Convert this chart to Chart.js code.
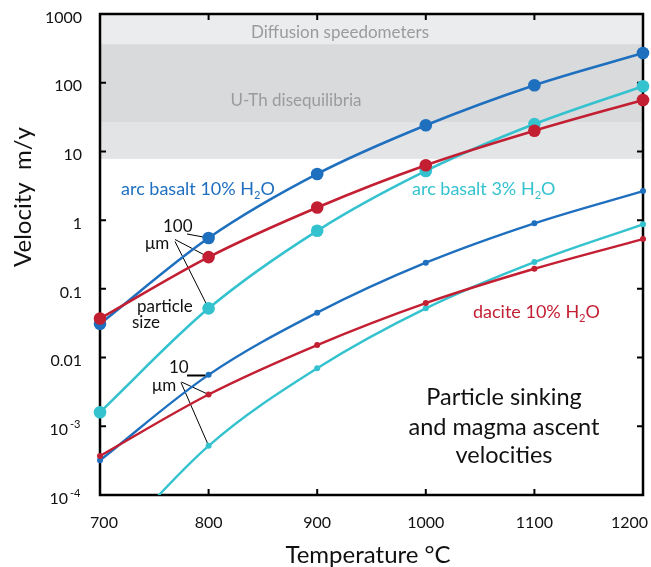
<!DOCTYPE html>
<html lang="en">
<head>
  <meta charset="UTF-8" />
  <title>Particle sinking and magma ascent velocities</title>
  <script src="https://cdn.jsdelivr.net/npm/chart.js"></script>
  <style>
    body { margin: 0; background: #fff; }
    #wrap { width: 651px; height: 567px; }
  </style>
</head>
<body>
  <div id="wrap"><canvas id="velChart" width="651" height="567"></canvas></div>

  <script>
    const temps = [700, 800, 900, 1000, 1100, 1200];

    // 100 micron particles (big dots)
    const basalt10Big = [0.031, 0.55, 4.7, 24, 92, 270];
    const basalt3Big = [0.0016, 0.052, 0.70, 5.2, 25, 89];
    const dacite10Big = [0.037, 0.29, 1.53, 6.3, 20, 56];

    // 10 micron particles (small dots)
    const basalt10Small = [0.00032, 0.0056, 0.045, 0.24, 0.90, 2.65];
    const basalt3Small = [0.000012, 0.00052, 0.0070, 0.052, 0.245, 0.87];
    const dacite10Small = [0.00037, 0.0029, 0.0152, 0.062, 0.196, 0.53];

    const xTicks = [700, 800, 900, 1000, 1100, 1200];
    const yTicks = [1e-4, 1e-3, 0.01, 0.1, 1, 10, 100, 1000];
    const yTickBase = ['10', '10', '0.01', '0.1', '1', '10', '100', '1000'];
    const yTickExp = ['-4', '-3', '', '', '', '', '', ''];

    // shaded ranges: edges from low to high
    const bandEdges = [7.8, 26.8, 365, 1000];

    const BLUE = '#1f6fbf', CYAN = '#35c2cf', RED = '#c31f33';
    const FONT = 'Lato, "Open Sans", sans-serif';

    function series(values, color, big, runsOffAxis) {
      const r = big ? 6.3 : 3;
      return {
        data: temps.map((t, i) => ({ x: t, y: values[i] })),
        borderColor: color,
        backgroundColor: color,
        borderWidth: big ? 2.6 : 2.4,
        pointRadius: values.map((v, i) => (runsOffAxis && i === 0) ? 0 : r),
        pointBorderWidth: 0,
        pointHoverRadius: r,
        cubicInterpolationMode: 'monotone',
        // the 10 um cyan curve starts below 1e-4 and must be cut at the x axis
        clip: runsOffAxis ? { left: 10, top: 10, right: 10, bottom: 0 } : false
      };
    }

    // text with H2O-style subscripts: parts = [[text, isSub], ...]
    function drawParts(ctx, parts, x, y, size) {
      let cx = x;
      ctx.textAlign = 'left';
      parts.forEach(([txt, sub]) => {
        ctx.font = (sub ? size * 0.62 : size) + 'px ' + FONT;
        ctx.fillText(txt, cx, sub ? y + size * 0.22 : y);
        cx += ctx.measureText(txt).width;
      });
    }

    const decor = {
      id: 'decor',
      beforeDatasetsDraw(chart) {
        const ctx = chart.ctx, a = chart.chartArea;
        const xs = chart.scales.x, ys = chart.scales.y;
        ctx.save();
        const bandColors = ['#e3e4e6', '#d9dadc', '#ebeced'];
        for (let i = 0; i < bandEdges.length - 1; i++) {
          const y1 = ys.getPixelForValue(bandEdges[i + 1]);
          const y0 = ys.getPixelForValue(bandEdges[i]);
          ctx.fillStyle = bandColors[i];
          ctx.fillRect(a.left, y1, a.right - a.left, y0 - y1);
        }
        ctx.fillStyle = '#9b9b9b';
        ctx.font = '17px ' + FONT;
        ctx.textAlign = 'center';
        ctx.fillText('Diffusion speedometers', 340, 38);
        ctx.fillText('U-Th disequilibria', 296, 106);

        // frame and inward ticks
        ctx.strokeStyle = '#000';
        ctx.lineWidth = 2;
        const tl = 6;
        ctx.beginPath();
        yTicks.forEach(v => {
          const y = ys.getPixelForValue(v);
          ctx.moveTo(a.left, y); ctx.lineTo(a.left + tl, y);
          ctx.moveTo(a.right, y); ctx.lineTo(a.right - tl, y);
        });
        xTicks.forEach(v => {
          const x = xs.getPixelForValue(v);
          ctx.moveTo(x, a.top); ctx.lineTo(x, a.top + tl);
          ctx.moveTo(x, a.bottom); ctx.lineTo(x, a.bottom - tl);
        });
        ctx.stroke();
        ctx.lineWidth = 2.5;
        ctx.strokeRect(a.left, a.top, a.right - a.left, a.bottom - a.top);

        // leader lines from the particle size labels to the 800 °C points
        const px = xs.getPixelForValue(800);
        const py = v => ys.getPixelForValue(v);
        ctx.lineWidth = 1;
        const leaders = [
          [187, 234, basalt10Big[1]],
          [175, 239.5, dacite10Big[1]],
          [175, 241.5, basalt3Big[1]],
          [181.5, 382, dacite10Small[1]],
          [181, 382.5, basalt3Small[1]]
        ];
        leaders.forEach(([x0, y0, v]) => {
          ctx.beginPath();
          ctx.moveTo(x0, y0);
          ctx.lineTo(px, py(v));
          ctx.stroke();
        });
        ctx.lineWidth = 2;
        ctx.beginPath();
        ctx.moveTo(187, 375.5);
        ctx.lineTo(px - 3, 375.5);
        ctx.stroke();
        ctx.restore();
      },
      afterDatasetsDraw(chart) {
        const ctx = chart.ctx;
        const xs = chart.scales.x, ys = chart.scales.y;
        ctx.save();

        // tick labels
        ctx.fillStyle = '#111';
        ctx.font = '16px ' + FONT;
        ctx.textAlign = 'center';
        xTicks.forEach((v, i) => {
          const label = String(v);
          const w = ctx.measureText(label).width;
          let x = xs.getPixelForValue(v);
          if (i === 0) x += 4;
          x = Math.min(x, chart.width - w / 2 - 3);
          ctx.fillText(label, x, 528);
        });
        yTicks.forEach((v, i) => {
          const y = ys.getPixelForValue(v) + 8.7;
          if (yTickExp[i]) {
            ctx.font = '16px ' + FONT;
            ctx.textAlign = 'right';
            ctx.fillText(yTickBase[i], 68, y);
            ctx.font = '11px ' + FONT;
            ctx.textAlign = 'left';
            ctx.fillText(yTickExp[i], 70, y - 6.5);
          } else {
            ctx.font = '16px ' + FONT;
            ctx.textAlign = 'right';
            ctx.fillText(yTickBase[i], 82, y);
          }
        });

        // axis titles
        ctx.font = '24px ' + FONT;
        ctx.textAlign = 'center';
        ctx.fillStyle = '#111';
        ctx.fillText('Temperature \u00B0C', 368, 563);
        ctx.save();
        ctx.translate(31, 197);
        ctx.rotate(-Math.PI / 2);
        ctx.fillText('Velocity  m/y', 0, 0);
        ctx.restore();

        // series labels
        ctx.fillStyle = BLUE;
        drawParts(ctx, [['arc basalt 10% H', 0], ['2', 1], ['O', 0]], 121, 195, 18);
        ctx.fillStyle = CYAN;
        drawParts(ctx, [['arc basalt 3% H', 0], ['2', 1], ['O', 0]], 412, 195, 18);
        ctx.fillStyle = RED;
        drawParts(ctx, [['dacite 10% H', 0], ['2', 1], ['O', 0]], 473, 318, 18);

        // particle size notes
        ctx.fillStyle = '#111';
        ctx.font = '17px ' + FONT;
        ctx.textAlign = 'left';
        ctx.fillText('100', 163, 232);
        ctx.fillText('\u03BCm', 145, 249);
        ctx.fillText('particle', 137, 312);
        ctx.fillText('size', 132, 328);
        ctx.fillText('10', 169, 373);
        ctx.fillText('\u03BCm', 152, 391);

        ctx.font = '23.5px ' + FONT;
        ctx.textAlign = 'center';
        ctx.fillText('Particle sinking', 504, 405);
        ctx.fillText('and magma ascent', 504, 435);
        ctx.fillText('velocities', 504, 463);
        ctx.restore();
      }
    };

    new Chart(document.getElementById('velChart').getContext('2d'), {
      type: 'line',
      data: {
        datasets: [
          series(dacite10Big, RED, true, false),
          series(basalt3Big, CYAN, true, false),
          series(basalt10Big, BLUE, true, false),
          series(dacite10Small, RED, false, false),
          series(basalt3Small, CYAN, false, true),
          series(basalt10Small, BLUE, false, false)
        ]
      },
      options: {
        responsive: false,
        animation: false,
        layout: { padding: { left: 100, top: 14, right: 8, bottom: 72 } },
        scales: {
          x: { type: 'linear', min: 700, max: 1200, display: false },
          y: { type: 'logarithmic', min: 1e-4, max: 1000, display: false }
        },
        plugins: {
          legend: { display: false },
          tooltip: { enabled: false }
        }
      },
      plugins: [decor]
    });
  </script>
</body>
</html>
